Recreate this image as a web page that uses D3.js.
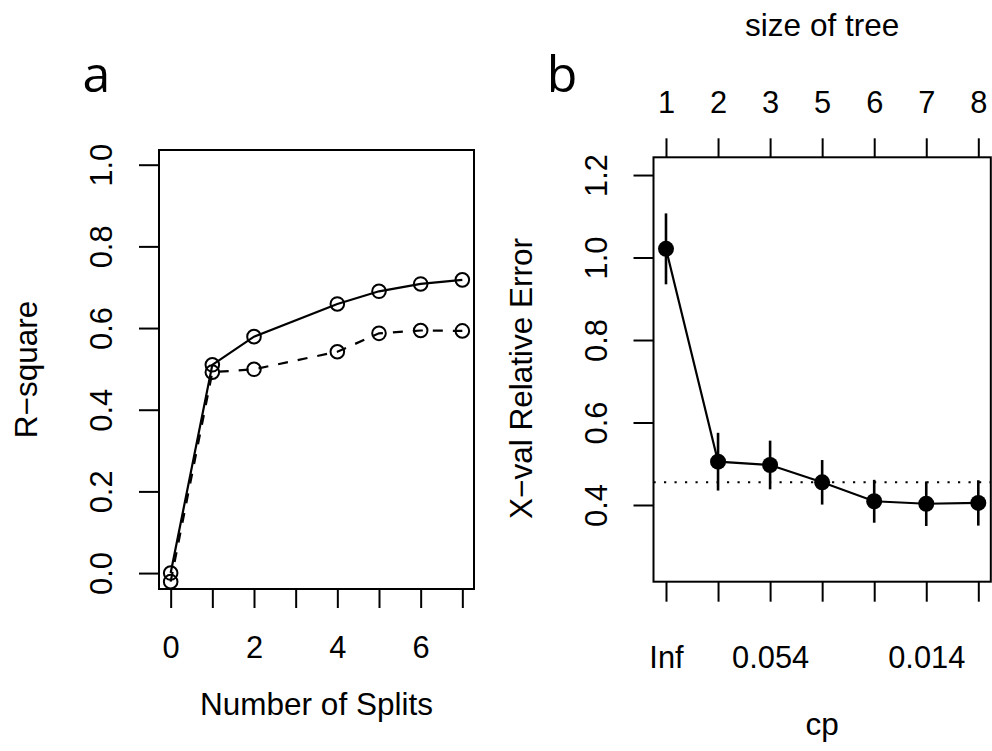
<!DOCTYPE html>
<html>
<head>
<meta charset="utf-8">
<script src="https://cdn.jsdelivr.net/npm/d3@7"></script>
<style>
  html, body { margin: 0; padding: 0; background: #fff; }
  svg { display: block; }
  text { font-family: "Liberation Sans", Arial, sans-serif; fill: #000; }
</style>
</head>
<body>
<svg id="chart" width="992" height="751"></svg>
<script>
// ---------- Data ----------
// Panel a: R-square vs number of splits
const splits = [0, 1, 2, 4, 5, 6, 7];
const rsqApparent = [0.000, 0.510, 0.579, 0.659, 0.690, 0.708, 0.718];
const rsqXval = [-0.021, 0.492, 0.499, 0.542, 0.587, 0.594, 0.593];
const splitTicks = [0, 1, 2, 3, 4, 5, 6, 7];
const splitTickLabels = ["0", "", "2", "", "4", "", "6", ""];
const rsqTicks = [0.0, 0.2, 0.4, 0.6, 0.8, 1.0];

// Panel b: cross-validated relative error vs cp / size of tree
const treeSize = ["1", "2", "3", "5", "6", "7", "8"];
const cpLabels = ["Inf", "", "0.054", "", "", "0.014", ""];
const xerror = [1.021, 0.505, 0.497, 0.455, 0.409, 0.403, 0.405];
const xstd = [0.086, 0.070, 0.059, 0.054, 0.052, 0.054, 0.055];
const xerrTicks = [0.4, 0.6, 0.8, 1.0, 1.2];
const threshold = 0.455;

// ---------- Layout ----------
const svg = d3.select("#chart");
const tickFont = 30.8, titleFont = 31.5;

// Panel a scales (box = plot region, R style 4% padding)
const boxA = { left: 159, right: 474, top: 150, bottom: 589 };
const xA = d3.scaleLinear().domain([-0.28, 7.28]).range([boxA.left, boxA.right]);
const yA = d3.scaleLinear().domain([-0.039, 1.036]).range([boxA.bottom, boxA.top]);

// Panel b scales
const boxB = { left: 653.5, right: 990.8, top: 157.3, bottom: 581.7 };
const idx = d3.range(treeSize.length);
const xB = d3.scaleLinear().domain([-0.24, 6.24]).range([boxB.left, boxB.right]);
const yB = d3.scaleLinear().domain([0.214, 1.243]).range([boxB.bottom, boxB.top]);

function styleAxis(g) {
  g.select(".domain").remove();
  g.selectAll(".tick line").attr("stroke", "#000").attr("stroke-width", 2);
  g.selectAll(".tick text").attr("font-size", tickFont).attr("fill", "#000")
    .attr("font-family", '"Liberation Sans", Arial, sans-serif');
}

// ---------- Panel a ----------
const gA = svg.append("g");

// y axis
const yAxisA = gA.append("g").attr("transform", `translate(${boxA.left},0)`)
  .call(d3.axisLeft(yA).tickValues(rsqTicks).tickSize(20).tickFormat(d3.format(".1f")));
styleAxis(yAxisA);
yAxisA.selectAll(".tick text")
  .attr("x", null).attr("dy", null)
  .attr("text-anchor", "middle")
  .attr("transform", "translate(-47.5,0) rotate(-90)");

// x axis
const xAxisA = gA.append("g").attr("transform", `translate(0,${boxA.bottom})`)
  .call(d3.axisBottom(xA).tickValues(splitTicks).tickSize(19)
    .tickFormat((d, i) => splitTickLabels[i]));
styleAxis(xAxisA);
xAxisA.selectAll(".tick text").attr("y", null).attr("dy", null)
  .attr("transform", "translate(0,69)");

// box
gA.append("rect")
  .attr("x", boxA.left).attr("y", boxA.top)
  .attr("width", boxA.right - boxA.left).attr("height", boxA.bottom - boxA.top)
  .attr("fill", "none").attr("stroke", "#000").attr("stroke-width", 2);

const lineA = (vals) => d3.line().x((d, i) => xA(splits[i])).y(d => yA(d))(vals);

gA.append("path").attr("d", lineA(rsqApparent))
  .attr("fill", "none").attr("stroke", "#000").attr("stroke-width", 2.2);
gA.append("path").attr("d", lineA(rsqXval))
  .attr("fill", "none").attr("stroke", "#000").attr("stroke-width", 2.2)
  .attr("stroke-dasharray", "10 10");

[rsqApparent, rsqXval].forEach(vals => {
  gA.append("g").selectAll("circle").data(vals).join("circle")
    .attr("cx", (d, i) => xA(splits[i])).attr("cy", d => yA(d))
    .attr("r", 6.8).attr("fill", "none").attr("stroke", "#000").attr("stroke-width", 2);
});

// titles
gA.append("text")
  .attr("x", (boxA.left + boxA.right) / 2).attr("y", 715)
  .attr("text-anchor", "middle").attr("font-size", titleFont)
  .text("Number of Splits");
gA.append("text")
  .attr("transform", `translate(36.5,${(boxA.top + boxA.bottom) / 2}) rotate(-90)`)
  .attr("text-anchor", "middle").attr("font-size", titleFont)
  .text("R\u2212square");
gA.append("text")
  .attr("x", 96.5).attr("y", 92)
  .attr("text-anchor", "middle").attr("font-size", 50)
  .style("font-family", '"Open Sans", sans-serif')
  .text("a");

// ---------- Panel b ----------
const gB = svg.append("g");

const yAxisB = gB.append("g").attr("transform", `translate(${boxB.left},0)`)
  .call(d3.axisLeft(yB).tickValues(xerrTicks).tickSize(20).tickFormat(d3.format(".1f")));
styleAxis(yAxisB);
yAxisB.selectAll(".tick text")
  .attr("x", null).attr("dy", null)
  .attr("text-anchor", "middle")
  .attr("transform", "translate(-46.5,0) rotate(-90)");

const xAxisB = gB.append("g").attr("transform", `translate(0,${boxB.bottom})`)
  .call(d3.axisBottom(xB).tickValues(idx).tickSize(20)
    .tickFormat(i => cpLabels[i]));
styleAxis(xAxisB);
xAxisB.selectAll(".tick text").attr("y", null).attr("dy", null)
  .attr("transform", "translate(0,86.5)");

const topAxisB = gB.append("g").attr("transform", `translate(0,${boxB.top})`)
  .call(d3.axisTop(xB).tickValues(idx).tickSize(19)
    .tickFormat(i => treeSize[i]));
styleAxis(topAxisB);
topAxisB.selectAll(".tick text").attr("y", null).attr("dy", null)
  .attr("transform", "translate(0,-44.5)");

gB.append("rect")
  .attr("x", boxB.left).attr("y", boxB.top)
  .attr("width", boxB.right - boxB.left).attr("height", boxB.bottom - boxB.top)
  .attr("fill", "none").attr("stroke", "#000").attr("stroke-width", 2);

// dotted threshold line
gB.append("line")
  .attr("x1", boxB.left).attr("x2", boxB.right)
  .attr("y1", yB(threshold)).attr("y2", yB(threshold))
  .attr("stroke", "#000").attr("stroke-width", 2)
  .attr("stroke-dasharray", "2.2 8.3");

// error bars
gB.append("g").selectAll("line").data(xerror).join("line")
  .attr("x1", (d, i) => xB(i)).attr("x2", (d, i) => xB(i))
  .attr("y1", (d, i) => yB(d - xstd[i])).attr("y2", (d, i) => yB(d + xstd[i]))
  .attr("stroke", "#000").attr("stroke-width", 2.6);

gB.append("path")
  .attr("d", d3.line().x((d, i) => xB(i)).y(d => yB(d))(xerror))
  .attr("fill", "none").attr("stroke", "#000").attr("stroke-width", 2.2);

gB.append("g").selectAll("circle").data(xerror).join("circle")
  .attr("cx", (d, i) => xB(i)).attr("cy", d => yB(d))
  .attr("r", 8).attr("fill", "#000");

gB.append("text")
  .attr("x", (boxB.left + boxB.right) / 2).attr("y", 735)
  .attr("text-anchor", "middle").attr("font-size", titleFont)
  .text("cp");
gB.append("text")
  .attr("x", (boxB.left + boxB.right) / 2).attr("y", 36)
  .attr("text-anchor", "middle").attr("font-size", titleFont)
  .text("size of tree");
gB.append("text")
  .attr("transform", `translate(532,378.5) rotate(-90)`)
  .attr("text-anchor", "middle").attr("font-size", titleFont)
  .text("X\u2212val Relative Error");
gB.append("text")
  .attr("x", 562).attr("y", 92)
  .attr("text-anchor", "middle").attr("font-size", 50)
  .style("font-family", '"Open Sans", sans-serif')
  .text("b");
</script>
</body>
</html>
